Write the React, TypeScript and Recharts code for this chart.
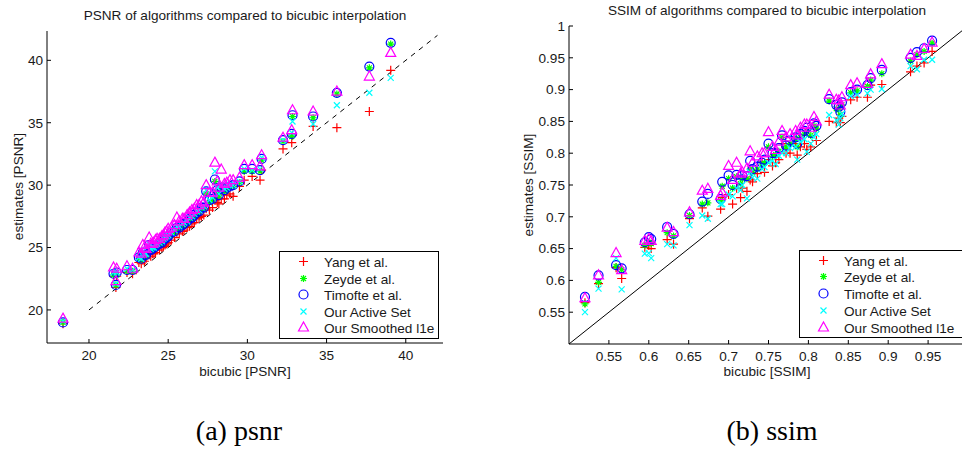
import { Legend, ReferenceLine, Scatter, ScatterChart, XAxis, YAxis } from "recharts";

// bicubic PSNR per image and the estimate of each method
const psnrBicubic = [18.36, 21.55, 21.7, 21.75, 22.4, 22.75, 23.15, 23.4, 23.6, 23.8, 24.0, 24.3, 24.6, 24.8, 25.2, 25.55, 25.9, 26.2, 26.5, 26.8, 27.1, 27.4, 27.6, 27.95, 28.1, 28.35, 28.7, 29.1, 29.5, 29.8, 30.3, 30.8, 30.9, 32.25, 32.8, 32.85, 34.15, 35.65, 37.7, 39.05, 23.3, 23.5, 23.9, 24.1, 24.2, 24.45, 24.7, 24.9, 25.0, 25.4, 25.7, 26.0, 26.35, 26.65, 26.95, 27.25, 27.8, 28.2, 28.55, 28.9];
const psnrYang = [18.9, 22.7, 21.8, 22.7, 23.0, 22.9, 23.8, 24.0, 24.1, 24.5, 24.5, 24.8, 25.0, 25.2, 25.6, 26.2, 26.3, 26.6, 26.9, 27.3, 27.5, 28.1, 28.0, 28.8, 28.6, 28.9, 29.2, 29.1, 29.9, 30.4, 30.7, 30.4, 31.2, 32.9, 33.4, 34.0, 34.7, 34.6, 35.9, 39.2, 23.7, 23.9, 24.3, 24.5, 24.6, 24.8, 25.1, 25.3, 25.4, 25.8, 26.1, 26.4, 26.7, 27.0, 27.4, 27.6, 28.2, 28.5, 28.9, 29.3];
const psnrZeyde = [19.0, 22.8, 22.0, 22.8, 23.1, 23.1, 24.1, 24.5, 24.3, 25.0, 24.8, 25.1, 25.3, 25.6, 26.0, 26.5, 26.7, 26.9, 27.3, 27.7, 28.0, 29.3, 28.6, 30.3, 29.4, 29.6, 29.6, 29.9, 30.2, 31.1, 31.1, 31.1, 32.0, 33.5, 33.9, 35.5, 35.4, 37.3, 39.4, 41.3, 24.0, 24.3, 24.7, 24.9, 25.0, 25.2, 25.5, 25.7, 25.8, 26.2, 26.5, 26.8, 27.2, 27.5, 27.8, 28.1, 28.8, 29.1, 29.5, 29.8];
const psnrTimofte = [19.0, 22.9, 22.0, 23.0, 23.2, 23.2, 24.2, 24.6, 24.4, 25.2, 24.9, 25.2, 25.4, 25.7, 26.2, 26.6, 26.8, 27.1, 27.4, 27.8, 28.2, 29.5, 28.8, 30.45, 29.6, 29.8, 29.8, 30.0, 30.3, 31.3, 31.3, 31.2, 32.1, 33.6, 34.1, 35.6, 35.5, 37.4, 39.5, 41.4, 24.1, 24.4, 24.8, 25.0, 25.1, 25.3, 25.6, 25.8, 25.9, 26.3, 26.6, 26.9, 27.3, 27.6, 27.9, 28.2, 28.9, 29.2, 29.6, 29.9];
const psnrActive = [19.1, 23.0, 22.1, 23.0, 23.3, 23.2, 24.2, 24.7, 24.5, 25.3, 25.0, 25.3, 25.5, 25.8, 26.2, 26.7, 26.9, 27.1, 27.5, 27.9, 28.2, 29.6, 28.8, 31.1, 29.8, 30.0, 29.8, 30.0, 30.3, 31.3, 31.2, 31.3, 32.2, 33.6, 34.2, 35.1, 34.9, 36.4, 37.4, 38.6, 24.1, 24.5, 24.9, 25.0, 25.2, 25.4, 25.7, 25.9, 26.0, 26.4, 26.7, 27.0, 27.4, 27.7, 28.0, 28.3, 29.0, 29.3, 29.7, 30.0];
const psnrSmoothed = [19.3, 23.4, 22.3, 23.3, 23.5, 23.3, 24.6, 25.2, 24.9, 25.8, 25.3, 25.7, 25.9, 26.2, 26.6, 27.4, 27.3, 27.6, 28.0, 28.4, 28.7, 30.0, 29.4, 31.8, 30.3, 31.25, 30.2, 30.4, 30.6, 31.6, 31.6, 31.5, 32.4, 33.8, 34.4, 36.0, 35.9, 37.5, 38.7, 40.6, 24.5, 25.0, 25.3, 25.4, 25.6, 25.7, 26.0, 26.3, 26.5, 26.8, 27.1, 27.3, 27.8, 28.1, 28.4, 28.6, 29.4, 29.8, 30.1, 30.4];
const psnrTicks = [20, 25, 30, 35, 40];

// bicubic SSIM per image and the estimate of each method
const ssimBicubic = [0.52, 0.537, 0.559, 0.566, 0.595, 0.6, 0.603, 0.623, 0.631, 0.651, 0.667, 0.674, 0.69, 0.692, 0.7, 0.71, 0.717, 0.723, 0.727, 0.736, 0.742, 0.75, 0.759, 0.767, 0.772, 0.784, 0.786, 0.798, 0.803, 0.807, 0.826, 0.838, 0.84, 0.853, 0.861, 0.874, 0.878, 0.892, 0.928, 0.936, 0.945, 0.955, 0.705, 0.715, 0.73, 0.745, 0.755, 0.763, 0.777, 0.79, 0.795, 0.81, 0.835, 0.842];
const ssimYang = [0.565, 0.595, 0.62, 0.603, 0.652, 0.655, 0.65, 0.664, 0.657, 0.697, 0.714, 0.701, 0.712, 0.73, 0.735, 0.745, 0.745, 0.74, 0.758, 0.768, 0.786, 0.79, 0.785, 0.815, 0.8, 0.815, 0.797, 0.806, 0.81, 0.839, 0.85, 0.855, 0.848, 0.884, 0.888, 0.888, 0.907, 0.908, 0.928, 0.937, 0.942, 0.96, 0.72, 0.73, 0.755, 0.77, 0.78, 0.79, 0.8, 0.81, 0.815, 0.82, 0.848, 0.858];
const ssimZeyde = [0.563, 0.597, 0.622, 0.617, 0.655, 0.66, 0.658, 0.675, 0.67, 0.702, 0.72, 0.722, 0.725, 0.748, 0.76, 0.763, 0.76, 0.76, 0.775, 0.775, 0.783, 0.81, 0.798, 0.825, 0.81, 0.822, 0.81, 0.835, 0.828, 0.843, 0.882, 0.868, 0.86, 0.895, 0.898, 0.905, 0.915, 0.925, 0.945, 0.955, 0.96, 0.973, 0.745, 0.752, 0.77, 0.785, 0.795, 0.803, 0.815, 0.825, 0.83, 0.838, 0.87, 0.876];
const ssimTimofte = [0.574, 0.608, 0.624, 0.619, 0.66, 0.668, 0.665, 0.684, 0.673, 0.704, 0.724, 0.736, 0.728, 0.755, 0.765, 0.766, 0.765, 0.764, 0.788, 0.779, 0.785, 0.815, 0.8, 0.828, 0.812, 0.825, 0.815, 0.84, 0.832, 0.847, 0.885, 0.873, 0.865, 0.896, 0.9, 0.907, 0.918, 0.931, 0.95, 0.959, 0.965, 0.977, 0.75, 0.758, 0.775, 0.79, 0.8, 0.808, 0.82, 0.83, 0.835, 0.843, 0.876, 0.88];
const ssimActive = [0.55, 0.587, 0.635, 0.586, 0.642, 0.643, 0.635, 0.657, 0.655, 0.687, 0.702, 0.697, 0.72, 0.72, 0.735, 0.745, 0.75, 0.729, 0.77, 0.76, 0.775, 0.785, 0.783, 0.8, 0.8, 0.81, 0.79, 0.802, 0.815, 0.825, 0.86, 0.845, 0.855, 0.89, 0.892, 0.894, 0.9, 0.901, 0.937, 0.932, 0.947, 0.947, 0.732, 0.742, 0.762, 0.778, 0.788, 0.796, 0.808, 0.818, 0.822, 0.83, 0.852, 0.862];
const ssimSmoothed = [0.572, 0.608, 0.643, 0.616, 0.662, 0.665, 0.662, 0.683, 0.676, 0.707, 0.741, 0.744, 0.733, 0.738, 0.78, 0.785, 0.77, 0.776, 0.803, 0.795, 0.8, 0.833, 0.805, 0.835, 0.825, 0.835, 0.828, 0.845, 0.84, 0.857, 0.892, 0.883, 0.875, 0.907, 0.91, 0.909, 0.924, 0.94, 0.955, 0.953, 0.964, 0.974, 0.758, 0.768, 0.785, 0.8, 0.81, 0.818, 0.83, 0.84, 0.845, 0.85, 0.884, 0.888];
const ssimXTicks = [0.55, 0.6, 0.65, 0.7, 0.75, 0.8, 0.85, 0.9, 0.95];
const ssimYTicks = [0.55, 0.6, 0.65, 0.7, 0.75, 0.8, 0.85, 0.9, 0.95, 1];

const seriesNames = ["Yang et al.", "Zeyde et al.", "Timofte et al.", "Our Active Set", "Our Smoothed l1e"];
const markerKinds = ["plus", "star", "circle", "cross", "triangle"];

const FONT = '"Liberation Sans", Arial, Helvetica, sans-serif';
const tickStyle = { fill: "#1a1a1a", fontSize: 13.6, fontFamily: FONT };
const SW = 1.2;

function Marker({ kind, cx, cy }: { kind: string; cx: number; cy: number }) {
  if (kind === "plus") {
    return <path d={`M${cx - 4.5},${cy}H${cx + 4.5}M${cx},${cy - 4.5}V${cy + 4.5}`} stroke="#ff0000" strokeWidth={SW} fill="none" />;
  }
  if (kind === "star") {
    const r = 3.5;
    const d = 2.5;
    return (
      <path
        d={`M${cx - r},${cy}H${cx + r}M${cx},${cy - r}V${cy + r}M${cx - d},${cy - d}L${cx + d},${cy + d}M${cx - d},${cy + d}L${cx + d},${cy - d}`}
        stroke="#00ff00"
        strokeWidth={SW}
        fill="none"
      />
    );
  }
  if (kind === "circle") {
    return <circle cx={cx} cy={cy} r={4.5} stroke="#0000ff" strokeWidth={SW} fill="none" />;
  }
  if (kind === "cross") {
    return (
      <path
        d={`M${cx - 3},${cy - 3}L${cx + 3},${cy + 3}M${cx - 3},${cy + 3}L${cx + 3},${cy - 3}`}
        stroke="#00ffff"
        strokeWidth={SW}
        fill="none"
      />
    );
  }
  return <path d={`M${cx},${cy - 5.5}L${cx + 5},${cy + 3.5}L${cx - 5},${cy + 3.5}Z`} stroke="#ff00ff" strokeWidth={SW} fill="none" />;
}

function LegendBox({ width, rows }: { width: number; rows: number[] }) {
  return (
    <svg width={width} height={88} style={{ display: "block" }}>
      <rect x={0.5} y={0.5} width={width - 1} height={87} fill="#fff" stroke="#000" />
      {seriesNames.map((name, i) => (
        <g key={name}>
          <Marker kind={markerKinds[i]} cx={24.5} cy={rows[i]} />
          <text x={45} y={rows[i] + 5} fontSize={13.6} fontFamily={FONT} fill="#1a1a1a">
            {name}
          </text>
        </g>
      ))}
    </svg>
  );
}

function points(xs: number[], ys: number[]) {
  return xs.map((x, i) => ({ x, y: ys[i] }));
}

const psnrSeries = [psnrYang, psnrZeyde, psnrTimofte, psnrActive, psnrSmoothed];
const ssimSeries = [ssimYang, ssimZeyde, ssimTimofte, ssimActive, ssimSmoothed];

function PsnrChart() {
  return (
    <ScatterChart width={481} height={400} margin={{ top: 31, right: 38, bottom: 37, left: 0 }}>
      <XAxis
        type="number"
        dataKey="x"
        domain={[17.35, 42.35]}
        ticks={psnrTicks}
        interval={0}
        allowDataOverflow
        height={20}
        tickSize={-4}
        tickMargin={11}
        stroke="#000"
        tick={tickStyle}
      />
      <YAxis
        type="number"
        dataKey="y"
        domain={[17.35, 42.35]}
        ticks={psnrTicks}
        interval={0}
        allowDataOverflow
        width={47}
        tickSize={-4}
        tickMargin={8}
        stroke="#000"
        tick={tickStyle}
      />
      <ReferenceLine
        segment={[
          { x: 20, y: 20 },
          { x: 42, y: 42 },
        ]}
        stroke="#000"
        strokeDasharray="5 5"
      />
      {psnrSeries.map((ys, i) => (
        <Scatter
          key={seriesNames[i]}
          name={seriesNames[i]}
          data={points(psnrBicubic, ys)}
          isAnimationActive={false}
          shape={(p: any) => <Marker kind={markerKinds[i]} cx={p.cx} cy={p.cy} />}
        />
      ))}
      <Legend
        layout="vertical"
        align="center"
        verticalAlign="middle"
        wrapperStyle={{ left: 279, top: 251, width: 160, height: 88 }}
        content={<LegendBox width={160} rows={[10.5, 27.5, 43.5, 60.5, 76.5]} />}
      />
    </ScatterChart>
  );
}

function SsimChart() {
  return (
    <ScatterChart width={520} height={400} margin={{ top: 26, right: 33, bottom: 36, left: 0 }}>
      <XAxis
        type="number"
        dataKey="x"
        domain={[0.5, 1]}
        ticks={ssimXTicks}
        interval={0}
        allowDataOverflow
        height={20}
        tickSize={-4}
        tickMargin={11}
        stroke="#000"
        tick={tickStyle}
      />
      <YAxis
        type="number"
        dataKey="y"
        domain={[0.5, 1]}
        ticks={ssimYTicks}
        interval={0}
        allowDataOverflow
        width={88}
        tickSize={-4}
        tickMargin={8}
        stroke="#000"
        tick={tickStyle}
      />
      <ReferenceLine
        segment={[
          { x: 0.5, y: 0.5 },
          { x: 1, y: 1 },
        ]}
        stroke="#000"
      />
      {ssimSeries.map((ys, i) => (
        <Scatter
          key={seriesNames[i]}
          name={seriesNames[i]}
          data={points(ssimBicubic, ys)}
          isAnimationActive={false}
          shape={(p: any) => <Marker kind={markerKinds[i]} cx={p.cx} cy={p.cy} />}
        />
      ))}
      <Legend
        layout="vertical"
        align="center"
        verticalAlign="middle"
        wrapperStyle={{ left: 318, top: 250, width: 175, height: 88 }}
        content={<LegendBox width={175} rows={[10.5, 26.5, 43.5, 60.5, 77.5]} />}
      />
    </ScatterChart>
  );
}

export default function App() {
  return (
    <div style={{ position: "absolute", left: 0, top: 0, width: 962, height: 461, overflow: "hidden", background: "#fff" }}>
      <div style={{ position: "absolute", left: 0, top: 0 }}>
        <PsnrChart />
      </div>
      <div style={{ position: "absolute", left: 481, top: 0 }}>
        <SsimChart />
      </div>
      <svg width={962} height={461} style={{ position: "absolute", left: 0, top: 0, pointerEvents: "none" }}>
        <g fontFamily={FONT} fontSize={13.6} fill="#1a1a1a" textAnchor="middle">
          <text x={245} y={19.5}>PSNR of algorithms compared to bicubic interpolation</text>
          <text x={767} y={15}>SSIM of algorithms compared to bicubic interpolation</text>
          <text x={245} y={376}>bicubic [PSNR]</text>
          <text x={767} y={376}>bicubic [SSIM]</text>
          <text transform="translate(23,186.5) rotate(-90)">estimates [PSNR]</text>
          <text transform="translate(533,185) rotate(-90)">estimates [SSIM]</text>
        </g>
        <g fontFamily='"Liberation Serif", "DejaVu Serif", serif' fontSize={28} fill="#000" textAnchor="middle">
          <text x={239} y={440}>(a) psnr</text>
          <text x={772} y={440}>(b) ssim</text>
        </g>
      </svg>
    </div>
  );
}
